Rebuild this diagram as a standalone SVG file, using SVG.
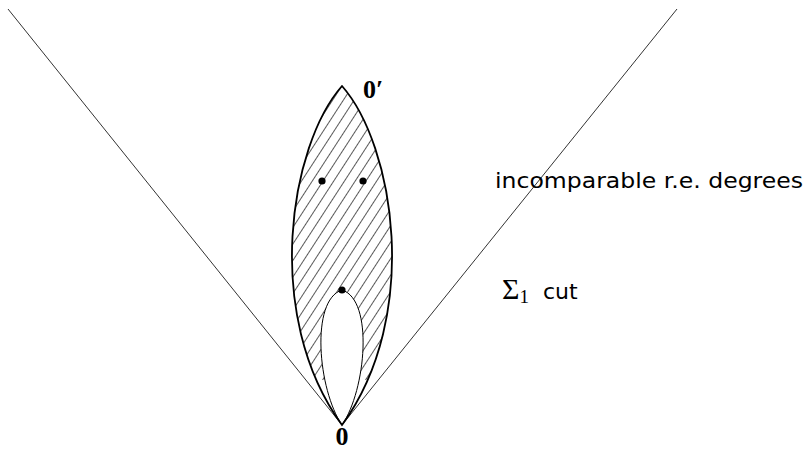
<svg xmlns="http://www.w3.org/2000/svg" width="808" height="450" viewBox="0 0 808 450">
<style>
.cone{stroke:#333;stroke-width:1;fill:none}
.outer{stroke:#000;stroke-width:1.8;fill:none}
.inner{stroke:#000;stroke-width:1;fill:none}
.dot{fill:#000}
.lbl{font-family:"Liberation Serif",serif;font-weight:bold;font-size:26px;fill:#000}
.sans{font-family:"DejaVu Sans","Liberation Sans",sans-serif;font-size:22px;fill:#000}
.serif{font-family:"Liberation Serif",serif;fill:#000}
</style>
<defs>
<pattern id="hatch" patternUnits="userSpaceOnUse" width="9" height="9" patternTransform="rotate(33)">
<line x1="0" y1="-1" x2="0" y2="10" stroke="#000" stroke-width="1.3"/>
</pattern>
<clipPath id="ring">
<path clip-rule="evenodd" d="M342,86 C290,145 262,315 342,425 C422,315 394,145 342,86 Z M342,425 C318,390 310,300 342,290 C374,300 366,390 342,425 Z"/>
</clipPath>
</defs>
<g id="connectors">
<line class="cone" x1="8" y1="9" x2="342" y2="425"/>
<line class="cone" x1="677" y1="9" x2="342" y2="425"/>
</g>
<g id="lens">
<rect x="280" y="80" width="130" height="300" fill="url(#hatch)" clip-path="url(#ring)"/>
<path class="outer" d="M342,86 C290,145 262,315 342,425 C422,315 394,145 342,86 Z"/>
<path class="inner" d="M342,425 C318,390 310,300 342,290 C374,300 366,390 342,425 Z"/>
</g>
<g id="dots">
<circle class="dot" cx="322" cy="181" r="3.6"/>
<circle class="dot" cx="363" cy="181" r="3.6"/>
<circle class="dot" cx="342" cy="290" r="3.6"/>
</g>
<g id="labels">
<text class="lbl" x="363" y="98">0′</text>
<text class="lbl" x="342" y="445" text-anchor="middle">0</text>
<text class="sans" x="495" y="188" textLength="308" lengthAdjust="spacingAndGlyphs">incomparable r.e. degrees</text>
<text x="502" y="299"><tspan class="serif" font-size="30">Σ</tspan><tspan class="serif" font-size="19" dy="4">1</tspan><tspan class="sans" dy="-4" dx="14">cut</tspan></text>
</g>
</svg>
